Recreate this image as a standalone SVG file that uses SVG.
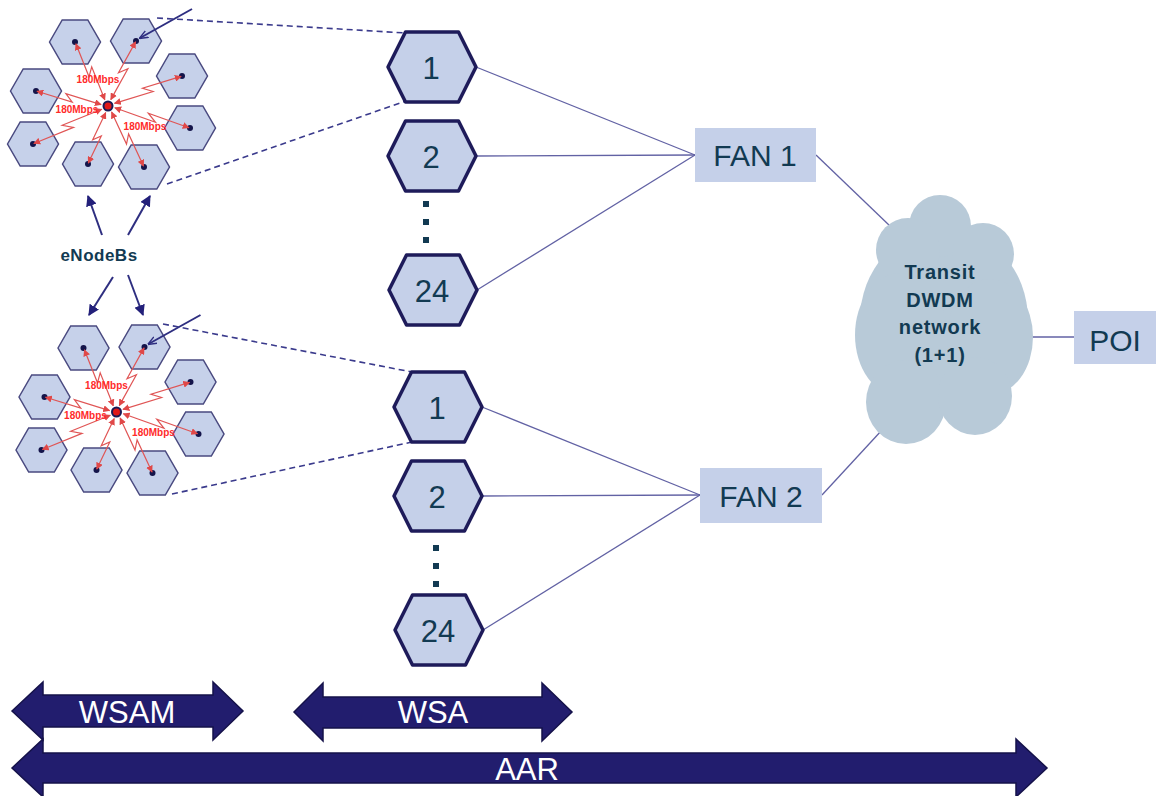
<svg xmlns="http://www.w3.org/2000/svg" width="1156" height="796" viewBox="0 0 1156 796">
<style>
.shex{fill:#c6d1ea;stroke:#4a4a80;stroke-width:1.5}
.dot{fill:#14144a}
.red{fill:none;stroke:#e05555;stroke-width:1.2;stroke-linejoin:miter}
.mb{font-family:"Liberation Sans",Arial,sans-serif;font-weight:bold;font-size:10px;fill:#ff2a2a;text-anchor:middle}
.bhex{fill:#c5d0e9;stroke:#1e1b5a;stroke-width:3.5;stroke-linejoin:round}
.num{font-family:"Liberation Sans",Arial,sans-serif;font-size:31px;fill:#123a52;text-anchor:middle}
.box{fill:#c5d0e9}
.lbl{font-family:"Liberation Sans",Arial,sans-serif;font-size:30px;fill:#123a52;text-anchor:middle}
.conn{fill:none;stroke:#6262a4;stroke-width:1.3}
.dash{fill:none;stroke:#3a3a8c;stroke-width:1.6;stroke-dasharray:6,4}
.blue{fill:none;stroke:#2e2e80;stroke-width:2}
.sq{fill:#123a52}
.cloud{fill:#b8cad8}
.ctext{font-family:"Liberation Sans",Arial,sans-serif;font-weight:bold;font-size:20px;fill:#123a52;text-anchor:middle;letter-spacing:0.8px}
.enb{font-family:"Liberation Sans",Arial,sans-serif;font-weight:bold;font-size:17px;fill:#123a52;text-anchor:middle;letter-spacing:0.5px}
.barrow{fill:#221d6e;stroke:#15124a;stroke-width:1.5;stroke-linejoin:miter}
.wt{font-family:"Liberation Sans",Arial,sans-serif;font-size:31px;fill:#ffffff;text-anchor:middle}
</style>
<defs>
<marker id="rh" viewBox="0 0 10 10" refX="9" refY="5" markerWidth="7" markerHeight="7" markerUnits="userSpaceOnUse" orient="auto-start-reverse">
<path d="M0,0 L10,5 L0,10 z" fill="#e04848"/>
</marker>
<marker id="bh" viewBox="0 0 10 10" refX="9" refY="5" markerWidth="11" markerHeight="11" markerUnits="userSpaceOnUse" orient="auto">
<path d="M0,0 L10,5 L0,10 z" fill="#23207a"/>
</marker>
<marker id="vh" viewBox="0 0 10 10" refX="9" refY="5" markerWidth="9" markerHeight="9" markerUnits="userSpaceOnUse" orient="auto">
<path d="M0,1 L10,5 L0,9" fill="none" stroke="#2e2e80" stroke-width="1.6"/>
</marker>
<path id="sh" d="M-25.5,0 L-12.8,-22 L12.8,-22 L25.5,0 L12.8,22 L-12.8,22 Z"/>
<path id="bhx" d="M-44,0 L-26.5,-35 L26.5,-35 L44,0 L26.5,35 L-26.5,35 Z"/>
<g id="cluster">
<use href="#sh" class="shex" x="75" y="42"/>
<use href="#sh" class="shex" x="136" y="41"/>
<use href="#sh" class="shex" x="182" y="76"/>
<use href="#sh" class="shex" x="36" y="91"/>
<use href="#sh" class="shex" x="190" y="128"/>
<use href="#sh" class="shex" x="33" y="144"/>
<use href="#sh" class="shex" x="88" y="164"/>
<use href="#sh" class="shex" x="144" y="167"/>
<circle class="dot" cx="75" cy="42" r="3"/>
<circle class="dot" cx="136" cy="41" r="3"/>
<circle class="dot" cx="182" cy="76" r="3"/>
<circle class="dot" cx="36" cy="91" r="3"/>
<circle class="dot" cx="190" cy="128" r="3"/>
<circle class="dot" cx="33" cy="144" r="3"/>
<circle class="dot" cx="88" cy="164" r="3"/>
<circle class="dot" cx="144" cy="167" r="3"/>
<g marker-start="url(#rh)" marker-end="url(#rh)">
<path class="red" d="M104.8,99.8 L91.7,66.8 L89,76.8 L75.9,43.8"/>
<path class="red" d="M110.8,99.6 L127.9,68.7 L118.5,72.8 L135.6,41.9"/>
<path class="red" d="M114.5,103.4 L153.1,91.5 L142.5,88.3 L181.1,76.4"/>
<path class="red" d="M101.1,104.6 L65.9,93.7 L72.2,102.1 L37,91.2"/>
<path class="red" d="M114.8,107.8 L155.5,122.3 L148.3,113.2 L189,127.7"/>
<path class="red" d="M101.8,109.2 L62.2,125.3 L73.5,127.4 L33.9,143.5"/>
<path class="red" d="M105.7,112.6 L92.7,139.8 L101.3,135.9 L88.3,163.1"/>
<path class="red" d="M111.6,112 L126.5,144.1 L128.6,134 L143.5,166.1"/>
</g>
<circle cx="108" cy="106" r="4.5" fill="#e01818" stroke="#1a1a55" stroke-width="2"/>
<text class="mb" x="98" y="83">180Mbps</text>
<text class="mb" x="77" y="113">180Mbps</text>
<text class="mb" x="145" y="130">180Mbps</text>
<line class="blue" x1="192" y1="9" x2="140" y2="38" stroke-width="1.5" marker-end="url(#vh)"/>
</g>
</defs>

<g id="enodeb-cluster-1"><use href="#cluster"/></g>
<g id="enodeb-cluster-2"><use href="#cluster" transform="translate(8.5,306)"/></g>

<g id="connectors">
<line class="dash" x1="157" y1="18" x2="406" y2="33"/>
<line class="dash" x1="167" y1="184" x2="406" y2="101"/>
<line class="dash" x1="163" y1="324" x2="412" y2="372"/>
<line class="dash" x1="172" y1="494" x2="412" y2="442"/>
<line class="blue" x1="102" y1="235" x2="88" y2="196" marker-end="url(#bh)"/>
<line class="blue" x1="128" y1="235" x2="150" y2="196" marker-end="url(#bh)"/>
<line class="blue" x1="113" y1="277" x2="89" y2="315" marker-end="url(#bh)"/>
<line class="blue" x1="128" y1="275" x2="143" y2="315" marker-end="url(#bh)"/>
<line class="conn" x1="476" y1="67" x2="695" y2="155"/>
<line class="conn" x1="476" y1="156" x2="695" y2="155"/>
<line class="conn" x1="477" y1="290" x2="695" y2="155"/>
<line class="conn" x1="816" y1="155" x2="890" y2="226"/>
<line class="conn" x1="482" y1="407" x2="700" y2="495"/>
<line class="conn" x1="482" y1="496" x2="700" y2="495" stroke="#24226a"/>
<line class="conn" x1="483" y1="630" x2="700" y2="495"/>
<line class="conn" x1="822" y1="495" x2="882" y2="430"/>
<line class="conn" x1="1030" y1="337" x2="1074" y2="337" stroke="#24226a"/>
</g>

<g id="enodebs-label"><text class="enb" x="99" y="261">eNodeBs</text></g>

<g id="wsa-top-1"><use href="#bhx" class="bhex" x="432" y="67"/><text class="num" x="431" y="79">1</text></g>
<g id="wsa-top-2"><use href="#bhx" class="bhex" x="432" y="156"/><text class="num" x="431" y="168">2</text></g>
<g id="dots-top"><rect class="sq" x="423" y="201" width="6" height="6"/><rect class="sq" x="423" y="219" width="6" height="6"/><rect class="sq" x="423" y="237" width="6" height="6"/></g>
<g id="wsa-top-24"><use href="#bhx" class="bhex" x="433" y="290"/><text class="num" x="432" y="302">24</text></g>

<g id="wsa-bot-1"><use href="#bhx" class="bhex" x="438" y="407"/><text class="num" x="437" y="419">1</text></g>
<g id="wsa-bot-2"><use href="#bhx" class="bhex" x="438" y="496"/><text class="num" x="437" y="508">2</text></g>
<g id="dots-bot"><rect class="sq" x="433" y="545" width="6" height="6"/><rect class="sq" x="433" y="563" width="6" height="6"/><rect class="sq" x="433" y="581" width="6" height="6"/></g>
<g id="wsa-bot-24"><use href="#bhx" class="bhex" x="439" y="630"/><text class="num" x="438" y="642">24</text></g>

<g id="fan1"><rect class="box" x="695" y="128" width="121" height="54"/><text class="lbl" x="755" y="166">FAN 1</text></g>
<g id="fan2"><rect class="box" x="700" y="468" width="122" height="55"/><text class="lbl" x="761" y="507">FAN 2</text></g>

<g id="cloud">
<ellipse class="cloud" cx="944" cy="320" rx="84" ry="92"/>
<circle class="cloud" cx="940" cy="226" r="31"/>
<circle class="cloud" cx="908" cy="250" r="32"/>
<circle class="cloud" cx="983" cy="254" r="31"/>
<ellipse class="cloud" cx="901" cy="335" rx="46" ry="62"/>
<ellipse class="cloud" cx="990" cy="337" rx="43" ry="58"/>
<ellipse class="cloud" cx="906" cy="402" rx="40" ry="42"/>
<ellipse class="cloud" cx="975" cy="396" rx="37" ry="39"/>
<text class="ctext" x="940" y="279">Transit</text>
<text class="ctext" x="940" y="307">DWDM</text>
<text class="ctext" x="940" y="334">network</text>
<text class="ctext" x="940" y="362">(1+1)</text>
</g>

<g id="poi"><rect class="box" x="1074" y="311" width="82" height="53"/><text class="lbl" x="1115" y="351">POI</text></g>

<g id="wsam"><polygon class="barrow" points="12,711 43,682 43,695 213,695 213,682 243,711 213,740 213,727 43,727 43,740"/><text class="wt" x="127" y="723">WSAM</text></g>
<g id="wsa"><polygon class="barrow" points="294,712 323,683 323,697 542,697 542,683 572,712 542,741 542,728 323,728 323,741"/><text class="wt" x="433" y="723">WSA</text></g>
<g id="aar"><polygon class="barrow" points="12,768 43,739 43,753 1016,753 1016,739 1047,768 1016,797 1016,783 43,783 43,797"/><text class="wt" x="527" y="780" font-size="30">AAR</text></g>
</svg>
